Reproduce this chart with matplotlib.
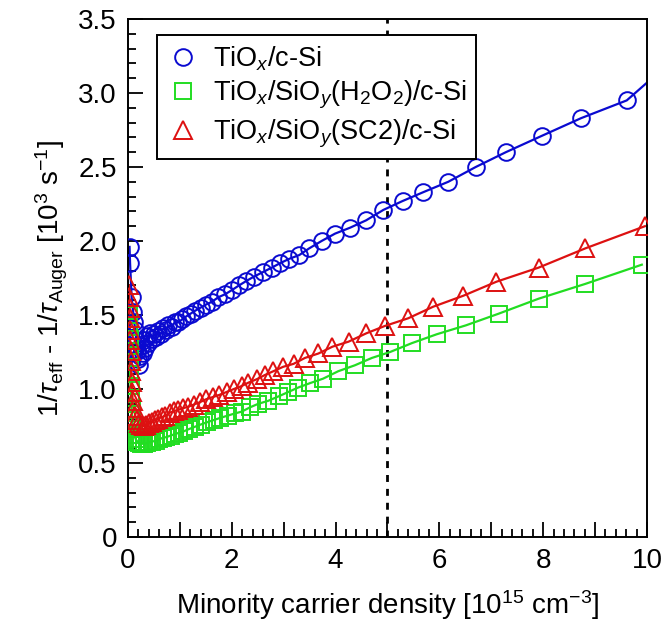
import matplotlib
matplotlib.use("Agg")
import matplotlib.pyplot as plt
from matplotlib.ticker import MultipleLocator, FuncFormatter

plt.rcParams['font.family'] = ['Liberation Sans', 'DejaVu Sans']
plt.rcParams['mathtext.fontset'] = 'custom'
plt.rcParams['mathtext.rm'] = 'Liberation Sans'
plt.rcParams['mathtext.it'] = 'Liberation Sans:italic'

# minority carrier density [1e15 cm-3] and 1/tau_eff - 1/tau_Auger [1e3 s-1]
blue_x = [0.03, 0.04, 0.07, 0.10, 0.12, 0.14, 0.16, 0.18, 0.20, 0.22, 0.24, 0.26,
          0.28, 0.30, 0.33, 0.36, 0.39, 0.42, 0.46, 0.50, 0.54, 0.58, 0.63, 0.68,
          0.73, 0.78, 0.84, 0.90, 0.97, 1.04, 1.12, 1.21, 1.30, 1.40, 1.50, 1.62,
          1.74, 1.87, 2.01, 2.14, 2.28, 2.43, 2.60, 2.77, 2.93, 3.11, 3.30, 3.49,
          3.73, 3.99, 4.28, 4.59, 4.92, 5.29, 5.69, 6.17, 6.70, 7.28, 7.97, 8.73, 9.61]
blue_y = [1.96, 1.85, 1.62, 1.52, 1.45, 1.40, 1.33, 1.26, 1.20, 1.16, 1.22, 1.29,
          1.24, 1.33, 1.28, 1.36, 1.31, 1.38, 1.34, 1.37, 1.35, 1.39, 1.37, 1.41,
          1.40, 1.43, 1.42, 1.45, 1.45, 1.47, 1.49, 1.51, 1.53, 1.55, 1.57, 1.59,
          1.62, 1.64, 1.67, 1.70, 1.73, 1.76, 1.79, 1.82, 1.85, 1.88, 1.905, 1.95,
          2.00, 2.05, 2.09, 2.14, 2.21, 2.27, 2.33, 2.40, 2.50, 2.60, 2.71, 2.83, 2.95]
blue_line_end = (10.0, 3.07)

green_x = [0.02, 0.02, 0.03, 0.03, 0.04, 0.04, 0.05, 0.06, 0.07, 0.08, 0.10, 0.12,
           0.15, 0.18, 0.22, 0.26, 0.31, 0.36, 0.41, 0.47, 0.53, 0.60, 0.67, 0.74,
           0.82, 0.90, 0.99, 1.08, 1.18, 1.29, 1.40, 1.52, 1.65, 1.78, 1.92, 2.06,
           2.19, 2.35, 2.51, 2.70, 2.90, 3.09, 3.28, 3.51, 3.76, 4.05, 4.37, 4.70,
           5.05, 5.47, 5.95, 6.51, 7.15, 7.91, 8.81, 9.90]
green_y = [1.50, 1.42, 1.34, 1.26, 1.18, 1.10, 1.02, 0.94, 0.86, 0.79, 0.73, 0.69,
           0.66, 0.645, 0.635, 0.63, 0.63, 0.635, 0.64, 0.645, 0.65, 0.66, 0.67, 0.675,
           0.685, 0.695, 0.705, 0.715, 0.73, 0.745, 0.76, 0.775, 0.79, 0.805, 0.82, 0.835,
           0.847, 0.876, 0.90, 0.92, 0.95, 0.98, 1.01, 1.04, 1.07, 1.12, 1.16, 1.21,
           1.25, 1.31, 1.37, 1.43, 1.51, 1.61, 1.71, 1.84]

red_x = [0.02, 0.02, 0.03, 0.03, 0.04, 0.04, 0.05, 0.05, 0.06, 0.07, 0.08, 0.09,
         0.11, 0.14, 0.17, 0.21, 0.25, 0.30, 0.35, 0.40, 0.46, 0.52, 0.58, 0.65,
         0.72, 0.80, 0.88, 0.97, 1.06, 1.16, 1.27, 1.38, 1.50, 1.63, 1.76, 1.90,
         2.04, 2.19, 2.32, 2.48, 2.64, 2.80, 2.99, 3.19, 3.41, 3.67, 3.94, 4.25,
         4.59, 4.95, 5.40, 5.88, 6.46, 7.10, 7.91, 8.81, 9.96]
red_y = [1.70, 1.62, 1.55, 1.48, 1.40, 1.33, 1.26, 1.19, 1.12, 1.05, 0.98, 0.92,
         0.87, 0.82, 0.79, 0.77, 0.76, 0.75, 0.76, 0.77, 0.78, 0.79, 0.80, 0.81,
         0.82, 0.84, 0.85, 0.86, 0.87, 0.88, 0.895, 0.91, 0.93, 0.945, 0.96, 0.98,
         1.00, 1.02, 1.043, 1.066, 1.095, 1.12, 1.15, 1.17, 1.21, 1.24, 1.286, 1.32,
         1.376, 1.426, 1.478, 1.556, 1.63, 1.725, 1.82, 1.95, 2.10]

labels = [r'TiO$_{x}$/c-Si',
          r'TiO$_{x}$/SiO$_{y}$(H$_2$O$_2$)/c-Si',
          r'TiO$_{x}$/SiO$_{y}$(SC2)/c-Si']
c_blue, c_green, c_red = '#0a0ad0', '#22dd22', '#dd1111'

fig = plt.figure(figsize=(6.64, 6.37), dpi=100)
ax = fig.add_axes([128 / 664, 1 - 537 / 637, 519 / 664, 518 / 637])

ax.axvline(5, color='black', lw=2, ls=(0, (2.5, 2.5)), zorder=1)

ax.plot(blue_x + [blue_line_end[0]], blue_y + [blue_line_end[1]], color=c_blue, lw=1.6, zorder=2)
ax.plot(blue_x, blue_y, ls='none', marker='o', ms=12, mfc='none', mec=c_blue, mew=1.4,
        label=labels[0], zorder=3)
ax.plot(green_x, green_y, color=c_green, lw=1.6, zorder=2)
ax.plot(green_x, green_y, ls='none', marker='s', ms=11.5, mfc='none', mec=c_green, mew=1.4,
        label=labels[1], zorder=3)
ax.plot(red_x, red_y, color=c_red, lw=1.6, zorder=2)
ax.plot(red_x, red_y, ls='none', marker='^', ms=12.5, mfc='none', mec=c_red, mew=1.4,
        label=labels[2], zorder=3)

ax.set_xlim(0, 10)
ax.set_ylim(0, 3.5)
ax.xaxis.set_major_locator(MultipleLocator(1))
ax.xaxis.set_minor_locator(MultipleLocator(0.2))
ax.xaxis.set_major_formatter(FuncFormatter(lambda v, p: '%d' % v if round(v) % 2 == 0 else ''))
ax.yaxis.set_major_locator(MultipleLocator(0.5))
ax.yaxis.set_minor_locator(MultipleLocator(0.1))
ax.yaxis.set_major_formatter(FuncFormatter(lambda v, p: '0' if v == 0 else '%.1f' % v))
ax.tick_params(which='both', direction='in', top=False, right=False, width=1.3, labelsize=20)
ax.tick_params(which='major', length=11, pad=8)
ax.tick_params(which='minor', length=5.5)
for s in ax.spines.values():
    s.set_linewidth(1.4)

ax.set_xlabel(r'Minority carrier density [10$^{15}$ cm$^{-3}$]', fontsize=20, labelpad=10)
ax.set_ylabel(r'1/$\tau_{\mathrm{eff}}$ - 1/$\tau_{\mathrm{Auger}}$ [10$^{3}$ s$^{-1}$]',
              fontsize=20, labelpad=6)

leg = ax.legend(loc='upper left', bbox_to_anchor=(0.056, 0.969), borderaxespad=0,
                fontsize=19.5, fancybox=False, edgecolor='black', framealpha=1,
                handletextpad=0.5, labelspacing=0.22, borderpad=0.35, handlelength=1.2)
leg.get_frame().set_linewidth(1.4)

fig.savefig('out.png', dpi=100)
